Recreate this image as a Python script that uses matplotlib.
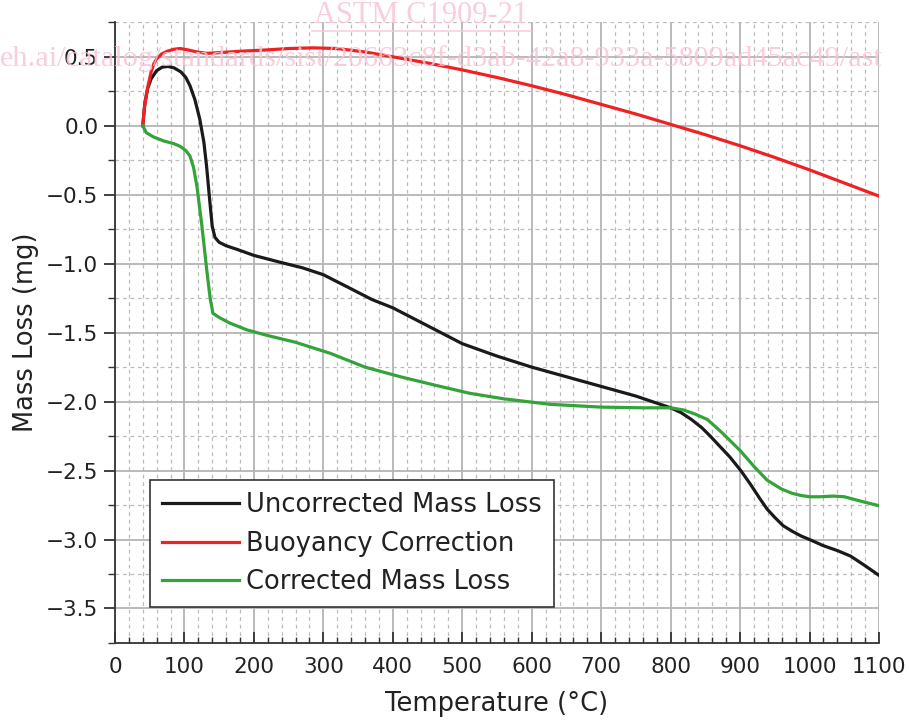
import matplotlib
matplotlib.use('Agg')
import matplotlib.pyplot as plt
from matplotlib.lines import Line2D
from matplotlib.ticker import MultipleLocator

# Uncorrected mass loss (black)
t_unc = [40, 43, 47, 52, 60, 68, 76, 85, 95, 102, 108, 115, 122, 128, 132, 136, 140, 144,
         150, 160, 175, 200, 238, 270, 300, 339, 370, 400, 450, 500, 550, 600, 650, 700,
         750, 800, 815, 830, 845, 857, 870, 885, 901, 915, 928, 939, 950, 962, 975, 988,
         1000, 1020, 1040, 1059, 1080, 1100]
m_unc = [0.0, 0.16, 0.27, 0.34, 0.40, 0.425, 0.43, 0.42, 0.39, 0.35, 0.29, 0.19, 0.05,
         -0.12, -0.30, -0.52, -0.73, -0.81, -0.845, -0.87, -0.895, -0.94, -0.99, -1.03,
         -1.08, -1.18, -1.26, -1.32, -1.45, -1.58, -1.67, -1.75, -1.82, -1.89, -1.96,
         -2.045, -2.08, -2.13, -2.19, -2.25, -2.32, -2.40, -2.50, -2.60, -2.70, -2.78,
         -2.84, -2.90, -2.94, -2.975, -3.0, -3.045, -3.08, -3.12, -3.19, -3.26]

# Buoyancy correction (red)
t_buo = [40, 42, 45, 48, 52, 56, 60, 67, 75, 85, 94, 105, 118, 132, 150, 180, 219, 250,
         285, 320, 360, 400, 450, 500, 550, 600, 650, 700, 750, 800, 850, 900, 950, 1000,
         1050, 1100]
m_buo = [0.0, 0.12, 0.22, 0.30, 0.39, 0.45, 0.485, 0.52, 0.54, 0.555, 0.56, 0.55, 0.535,
         0.525, 0.53, 0.54, 0.55, 0.56, 0.565, 0.56, 0.535, 0.50, 0.455, 0.405, 0.35, 0.29,
         0.225, 0.155, 0.085, 0.01, -0.065, -0.145, -0.23, -0.32, -0.415, -0.51]

# Corrected mass loss (green)
t_cor = [40, 45, 55, 70, 85, 94, 102, 108, 113, 118, 125, 132, 137, 141, 150, 165, 190,
         219, 260, 310, 360, 411, 460, 511, 560, 627, 700, 760, 800, 818, 835, 853, 875,
         901, 920, 939, 960, 975, 987, 1000, 1015, 1035, 1050, 1065, 1080, 1100]
m_cor = [0.0, -0.05, -0.08, -0.11, -0.13, -0.15, -0.18, -0.22, -0.30, -0.44, -0.72, -1.04,
         -1.25, -1.36, -1.39, -1.43, -1.48, -1.52, -1.57, -1.65, -1.75, -1.82, -1.88,
         -1.94, -1.98, -2.02, -2.04, -2.045, -2.045, -2.06, -2.09, -2.13, -2.23, -2.36,
         -2.47, -2.57, -2.635, -2.665, -2.68, -2.69, -2.69, -2.685, -2.69, -2.71, -2.73,
         -2.755]

fig = plt.figure(figsize=(9.09, 7.2), dpi=100)
ax = fig.add_axes([0.1265, 0.107, 0.8405, 0.862])

ax.plot(t_unc, m_unc, color='#1a1a1a', lw=2.3, label='Uncorrected Mass Loss', zorder=4)
ax.plot(t_buo, m_buo, color='#ee2222', lw=2.3, label='Buoyancy Correction', zorder=4)
ax.plot(t_cor, m_cor, color='#33a33a', lw=2.3, label='Corrected Mass Loss', zorder=4)

ax.set_xlim(0, 1100)
ax.set_ylim(-3.75, 0.75)
ax.xaxis.set_major_locator(MultipleLocator(100))
ax.xaxis.set_minor_locator(MultipleLocator(20))
ax.yaxis.set_major_locator(MultipleLocator(0.5))
ax.yaxis.set_minor_locator(MultipleLocator(0.25))
ax.yaxis.set_major_formatter(plt.FuncFormatter(lambda v, p: f'{v:.1f}'.replace('-', '\u2212')))

ax.grid(which='major', color='#b4b4b4', lw=1.3, ls='-')
ax.grid(which='minor', color='#bbbbbb', lw=0.9, ls=(0, (3, 3)))
ax.set_axisbelow(True)

for s in ['top', 'right']:
    ax.spines[s].set_visible(False)
for s in ['left', 'bottom']:
    ax.spines[s].set_color('#333333')
    ax.spines[s].set_linewidth(1.3)

ax.tick_params(axis='x', which='major', direction='in', length=8, width=1.3,
               color='#333333', labelsize=15.5, pad=10, labelcolor='#222222')
ax.tick_params(axis='x', which='minor', direction='in', length=4, width=1.0, color='#333333')
ax.tick_params(axis='y', which='major', direction='out', length=8, width=1.3,
               color='#333333', labelsize=15.5, pad=4, labelcolor='#222222')
ax.tick_params(axis='y', which='minor', direction='out', length=5, width=1.0, color='#333333')

ax.set_xlabel('Temperature (\u00b0C)', fontsize=18.5, color='#222222', labelpad=10)
ax.set_ylabel('Mass Loss (mg)', fontsize=18.5, color='#222222', labelpad=5)

leg = ax.legend(loc='lower left', bbox_to_anchor=(0.046, 0.058), fontsize=18.5,
                frameon=True, fancybox=False, handlelength=3.0, handletextpad=0.3,
                borderpad=0.45, labelspacing=0.5, borderaxespad=0)
leg.get_frame().set_edgecolor('#333333')
leg.get_frame().set_linewidth(1.2)
leg.get_frame().set_alpha(1)
for txt in leg.get_texts():
    txt.set_color('#222222')

# faint watermark from the source document
wm = '#f7c6d4'
fig.text(0.463, 0.978, 'ASTM C1909-21', fontsize=22, family='Liberation Serif',
         color=wm, ha='center', va='center', alpha=0.85)
fig.add_artist(Line2D([0.343, 0.584], [0.957, 0.957], transform=fig.transFigure,
                      color=wm, lw=1.2, alpha=0.85))
fig.text(0.0, 0.919, 'eh.ai/catalog/standards/sist/20663c8f-d3ab-42a8-933a-5809ad45ac49/ast',
         fontsize=21.8, family='Liberation Serif', color=wm, ha='left', va='center',
         alpha=0.85, zorder=10)

fig.savefig('out.png', dpi=100)
